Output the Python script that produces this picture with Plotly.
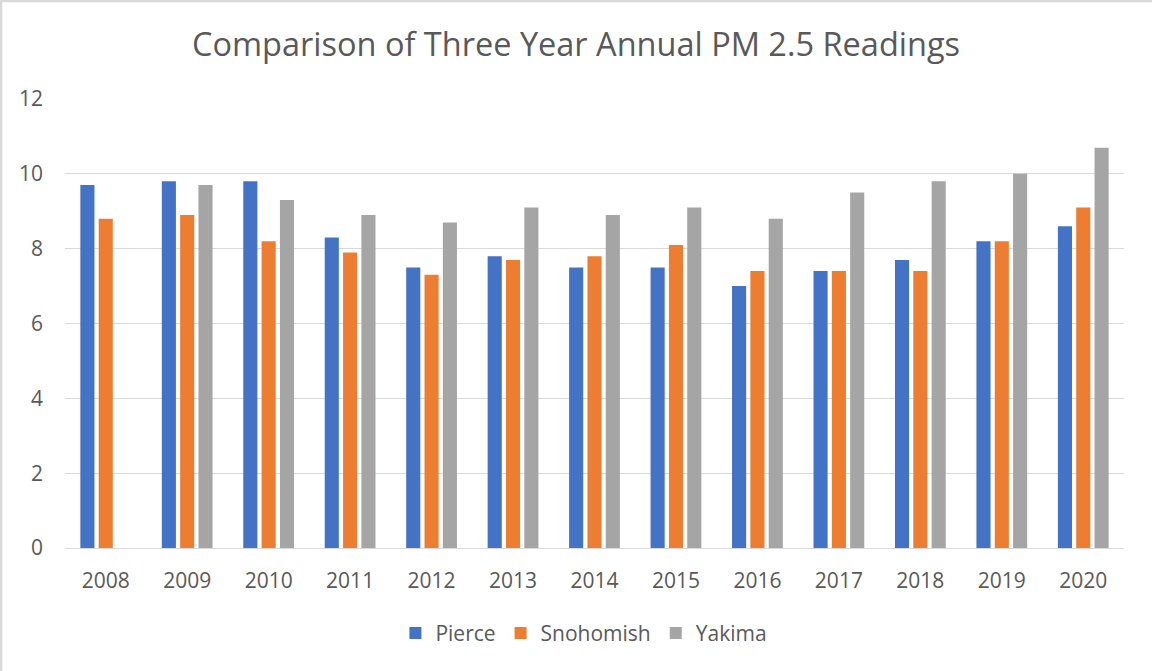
import plotly.graph_objects as go

years = ["2008", "2009", "2010", "2011", "2012", "2013", "2014", "2015", "2016", "2017", "2018", "2019", "2020"]
pierce = [9.7, 9.8, 9.8, 8.3, 7.5, 7.8, 7.5, 7.5, 7.0, 7.4, 7.7, 8.2, 8.6]
snohomish = [8.8, 8.9, 8.2, 7.9, 7.3, 7.7, 7.8, 8.1, 7.4, 7.4, 7.4, 8.2, 9.1]
yakima = [None, 9.7, 9.3, 8.9, 8.7, 9.1, 8.9, 9.1, 8.8, 9.5, 9.8, 10.0, 10.7]
y_ticks = [0, 2, 4, 6, 8, 10, 12]

FONT = "Open Sans"
TXT = "#595959"
GRID = "#d9d9d9"

fig = go.Figure()
for name, vals, col in [("Pierce", pierce, "#4472c4"),
                        ("Snohomish", snohomish, "#ed7d31"),
                        ("Yakima", yakima, "#a5a5a5")]:
    fig.add_trace(go.Bar(x=years, y=vals, name=name, marker_color=col,
                         marker_line_width=0))

fig.update_layout(
    width=1152, height=671,
    margin=dict(l=65, r=28, t=99, b=123),
    paper_bgcolor="white", plot_bgcolor="white",
    barmode="group", bargap=0.325, bargroupgap=0.23,
    font=dict(family=FONT, color=TXT, size=21),
    title=dict(text="Comparison of Three Year Annual PM 2.5 Readings",
               x=0.5, xanchor="center", y=1 - 45 / 671, yanchor="middle",
               font=dict(family=FONT, size=32.5, color=TXT)),
    legend=dict(orientation="h", x=0.49, xanchor="center", y=-0.19, yanchor="middle",
                font=dict(family=FONT, size=21, color=TXT), itemwidth=30,
                traceorder="normal"),
    showlegend=True,
)
fig.update_yaxes(range=[0, 12], tickvals=y_ticks, showgrid=True, gridcolor=GRID,
                 gridwidth=1.3, zeroline=False, showline=False, ticks="",
                 ticklabelstandoff=21, tickfont=dict(size=21, color=TXT))
fig.update_xaxes(showline=True, linecolor=GRID, linewidth=1.3, ticks="",
                 showgrid=False, tickfont=dict(size=21, color=TXT),
                 ticklabelstandoff=14)
fig.add_shape(type="rect", xref="paper", yref="paper",
              x0=-64 / 1059, x1=1.2, y0=-0.5, y1=1 + 98 / 449,
              line=dict(color="#d9d9d9", width=2.5), layer="below")
fig.write_html("out.html", config={"displayModeBar": False},
               post_script="document.body.style.margin='0';")
